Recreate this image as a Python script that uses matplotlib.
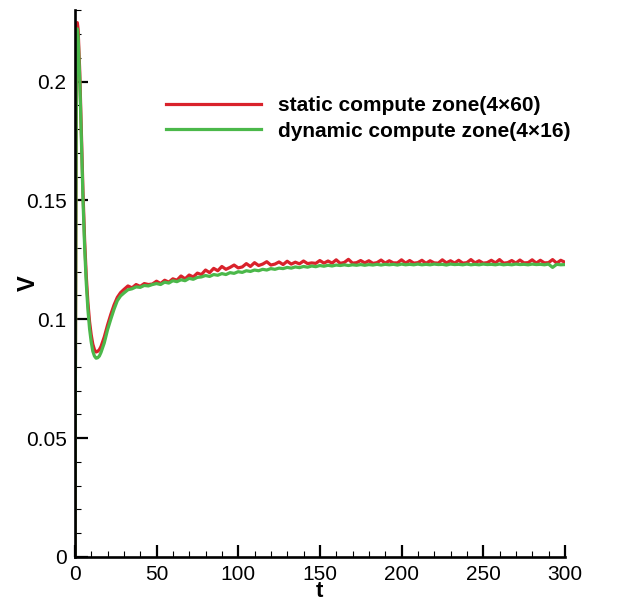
import numpy as np
import matplotlib
matplotlib.use("Agg")
import matplotlib.pyplot as plt
from matplotlib.ticker import MultipleLocator, FixedFormatter, FixedLocator

plt.rcParams['font.family'] = ['Liberation Sans', 'DejaVu Sans']

# time samples: fine near the start, then every 2.5
t_early = [0, 1, 1.5, 2, 3, 4, 5, 6, 7, 8, 9, 10, 11, 12, 13, 14, 15, 16,
           18, 20, 22, 24, 26, 28]
t_late = list(np.arange(30, 300.1, 2.5))

v_static_early = [0.0, 0.2235, 0.2248, 0.2220, 0.2040, 0.1790, 0.1530, 0.1330,
                  0.1180, 0.1070, 0.0990, 0.0935, 0.0895, 0.0872, 0.0862, 0.0865,
                  0.0872, 0.0885, 0.0925, 0.0975, 0.1020, 0.1060, 0.1092, 0.1112]
v_static_late = [
    0.1125, 0.1140, 0.1132, 0.1146, 0.1138, 0.1150, 0.1146, 0.1148, 0.1160, 0.1150,
    0.1164, 0.1156, 0.1170, 0.1164, 0.1182, 0.1170, 0.1186, 0.1178, 0.1194, 0.1188,
    0.1207, 0.1196, 0.1214, 0.1204, 0.1222, 0.1210, 0.1218, 0.1228, 0.1216, 0.1220,
    0.1234, 0.1222, 0.1238, 0.1226, 0.1232, 0.1242, 0.1228, 0.1232, 0.1241, 0.1230,
    0.1244, 0.1232, 0.1240, 0.1233, 0.1245, 0.1234, 0.1237, 0.1235, 0.1247, 0.1236,
    0.1245, 0.1236, 0.1250, 0.1235, 0.1239, 0.1252, 0.1236, 0.1238, 0.1247, 0.1237,
    0.1246, 0.1235, 0.1238, 0.1249, 0.1236, 0.1246, 0.1237, 0.1237, 0.1250, 0.1236,
    0.1247, 0.1236, 0.1238, 0.1248, 0.1235, 0.1246, 0.1237, 0.1236, 0.1250, 0.1237,
    0.1246, 0.1236, 0.1248, 0.1236, 0.1238, 0.1251, 0.1237, 0.1246, 0.1236, 0.1238,
    0.1248, 0.1237, 0.1251, 0.1236, 0.1238, 0.1247, 0.1236, 0.1249, 0.1237, 0.1238,
    0.1250, 0.1236, 0.1248, 0.1237, 0.1238, 0.1251, 0.1236, 0.1248, 0.1240]

v_dynamic_early = [0.0, 0.2200, 0.2222, 0.2190, 0.2010, 0.1760, 0.1500, 0.1300,
                   0.1150, 0.1040, 0.0960, 0.0905, 0.0865, 0.0845, 0.0836, 0.0838,
                   0.0845, 0.0860, 0.0900, 0.0955, 0.1000, 0.1042, 0.1078, 0.1098]
v_dynamic_late = [
    0.1110, 0.1124, 0.1128, 0.1136, 0.1134, 0.1142, 0.1140, 0.1146, 0.1150, 0.1146,
    0.1156, 0.1152, 0.1162, 0.1158, 0.1166, 0.1162, 0.1172, 0.1168, 0.1176, 0.1178,
    0.1184, 0.1180, 0.1188, 0.1185, 0.1192, 0.1188, 0.1196, 0.1193, 0.1200, 0.1197,
    0.1204, 0.1201, 0.1207, 0.1204, 0.1210, 0.1207, 0.1213, 0.1210, 0.1215, 0.1213,
    0.1218, 0.1215, 0.1220, 0.1217, 0.1222, 0.1219, 0.1224, 0.1221, 0.1226, 0.1223,
    0.1227, 0.1224, 0.1228, 0.1226, 0.1229, 0.1226, 0.1229, 0.1227, 0.1230, 0.1227,
    0.1230, 0.1228, 0.1231, 0.1228, 0.1231, 0.1229, 0.1231, 0.1228, 0.1232, 0.1229,
    0.1231, 0.1229, 0.1232, 0.1229, 0.1231, 0.1229, 0.1232, 0.1230, 0.1231, 0.1228,
    0.1232, 0.1230, 0.1231, 0.1229, 0.1232, 0.1229, 0.1231, 0.1229, 0.1232, 0.1230,
    0.1231, 0.1229, 0.1232, 0.1229, 0.1231, 0.1229, 0.1232, 0.1230, 0.1231, 0.1229,
    0.1232, 0.1230, 0.1231, 0.1229, 0.1232, 0.1218, 0.1231, 0.1229, 0.1230]

t = t_early + t_late
v_static = v_static_early + v_static_late
v_dynamic = v_dynamic_early + v_dynamic_late

labels = ['static compute zone(4\u00d760)', 'dynamic compute zone(4\u00d716)']
colors = ['#d9222b', '#4bb84a']

y_ticks = [0, 0.05, 0.1, 0.15, 0.2]
y_tick_labels = ['0', '0.05', '0.1', '0.15', '0.2']

fig = plt.figure(figsize=(6.29, 6.04), dpi=100)
ax = fig.add_axes([0.119, 0.078, 0.779, 0.905])

ax.plot(t, v_static, color=colors[0], lw=2.3, label=labels[0])
ax.plot(t, v_dynamic, color=colors[1], lw=2.3, label=labels[1])

ax.set_xlim(0, 300)
ax.set_ylim(0, 0.23)

for side in ['top', 'right']:
    ax.spines[side].set_visible(False)
for side in ['left', 'bottom']:
    ax.spines[side].set_linewidth(1.9)

ax.xaxis.set_major_locator(MultipleLocator(50))
ax.xaxis.set_minor_locator(MultipleLocator(10))
ax.yaxis.set_major_locator(FixedLocator(y_ticks))
ax.yaxis.set_major_formatter(FixedFormatter(y_tick_labels))
ax.yaxis.set_minor_locator(MultipleLocator(0.01))

ax.tick_params(which='major', direction='in', length=9, width=1.6,
               labelsize=15, pad=6)
ax.tick_params(which='minor', direction='in', length=4.5, width=0.8)

ax.set_xlabel('t', fontsize=16, fontweight='bold', labelpad=-2.5)
ax.set_ylabel('V', fontsize=17, fontweight='bold', labelpad=-10)

ax.legend(loc='center left', bbox_to_anchor=(0.186, 0.802), frameon=False,
          borderpad=0, borderaxespad=0, handlelength=4.57, handletextpad=0.8,
          labelspacing=0.3, prop={'weight': 'bold', 'size': 15})

fig.savefig('out.png', dpi=100)
